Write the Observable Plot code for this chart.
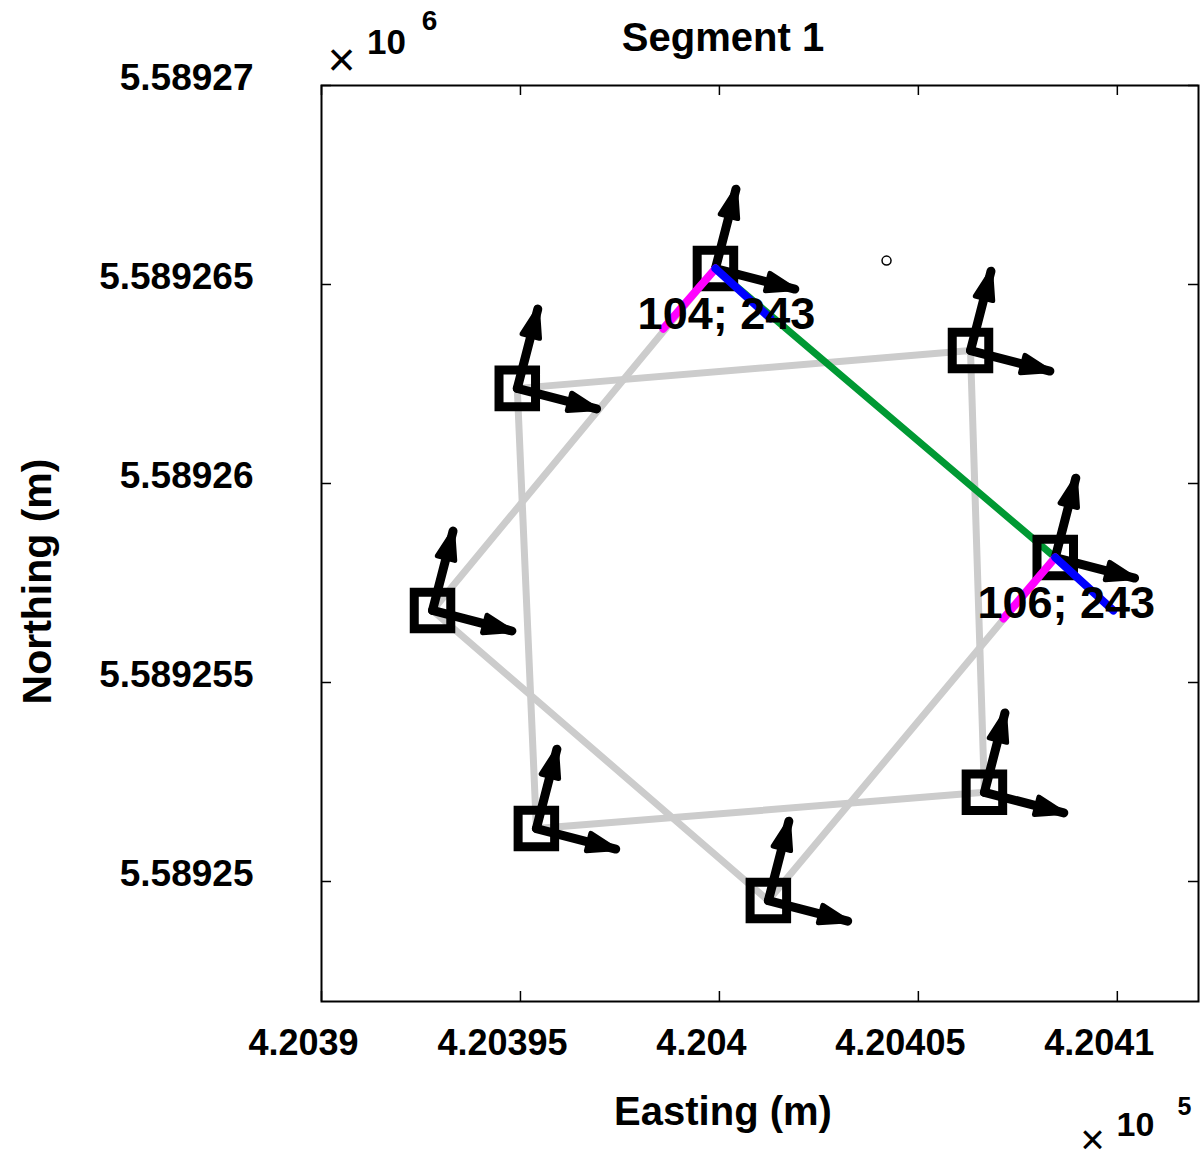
<!DOCTYPE html>
<html><head><meta charset="utf-8">
<script src="https://cdn.jsdelivr.net/npm/d3@7"></script>
<script src="https://cdn.jsdelivr.net/npm/@observablehq/plot@0.6"></script>
<style>body{margin:0;background:#fff}</style>
</head><body><div id="chart"></div>
<script>
// ---- data (metres, UTM) ----
const easting  = [420399.90, 420406.31, 420408.44, 420406.66, 420401.23, 420395.40, 420392.79, 420394.92];
const northing = [5589265.40, 5589263.34, 5589258.14, 5589252.24, 5589249.52, 5589251.33, 5589256.81, 5589262.39];
const heading  = [14.5, 14.5, 14.5, 14.5, 14.5, 14.5, 14.5, 14.5]; // degrees clockwise from north
const arrowLength = 2.06; // metres
const squarePath  = [7, 1, 3, 5, 7];
const diamondPath = [0, 6, 4, 2];
const segment = [0, 2];
const labelAt   = [0, 2];
const labelText = ["104; 243", "106; 243"];
const pinkEndE = [420398.59, 420407.14];
const pinkEndN = [5589263.89, 5589256.61];
const blueEndE = [420401.28, 420409.90];
const blueEndN = [5589264.15, 5589256.81];
const targetE = [420404.20];
const targetN = [5589265.60];
const xTicks = [420390, 420395, 420400, 420405, 420410];
const xTickLabels = ["4.2039", "4.20395", "4.204", "4.20405", "4.2041"];
const yTicks = [5589250, 5589255, 5589260, 5589265, 5589270];
const yTickLabels = ["5.58925", "5.589255", "5.58926", "5.589265", "5.58927"];

// ---- derived tables ----
const pts = easting.map((e, i) => ({e, n: northing[i], h: heading[i]}));
const grey = [
  ...squarePath.map(i => ({e: easting[i], n: northing[i], g: "sq"})),
  ...diamondPath.map(i => ({e: easting[i], n: northing[i], g: "di"}))
];
const green = segment.map(i => ({e: easting[i], n: northing[i]}));
const arrows = pts.flatMap(p => {
  const r = p.h * Math.PI / 180;
  return [
    {x1: p.e, y1: p.n, x2: p.e + arrowLength * Math.sin(r), y2: p.n + arrowLength * Math.cos(r)},
    {x1: p.e, y1: p.n, x2: p.e + arrowLength * Math.cos(r), y2: p.n - arrowLength * Math.sin(r)}
  ];
});
const pink = labelAt.map((i, k) => ({x1: easting[i], y1: northing[i], x2: pinkEndE[k], y2: pinkEndN[k]}));
const blue = labelAt.map((i, k) => ({x1: easting[i], y1: northing[i], x2: blueEndE[k], y2: blueEndN[k]}));
const labels = labelAt.map((i, k) => ({e: easting[i], n: northing[i], t: labelText[k]}));
const targets = targetE.map((e, i) => ({e, n: targetN[i]}));

function headMarker(color) {
  const m = d3.create("svg:marker")
    .attr("viewBox", "-36 -15 40 30")
    .attr("markerUnits", "userSpaceOnUse")
    .attr("markerWidth", 40).attr("markerHeight", 30)
    .attr("refX", 0).attr("refY", 0)
    .attr("orient", "auto")
    .attr("overflow", "visible");
  m.append("path")
    .attr("d", "M-28,-9L-1,0L-28,9Z")
    .attr("fill", color).attr("stroke", color)
    .attr("stroke-width", 5).attr("stroke-linejoin", "round");
  return m.node();
}

const FONT = "Liberation Sans, Arial, Helvetica, sans-serif";
const FH = 916, FW = 877;
const T = {textAnchor: "middle", lineAnchor: "middle", fontWeight: "bold", fill: "black"};

const chart = Plot.plot({
  width: 1204, height: 1167,
  marginLeft: 321, marginTop: 85, marginRight: 6, marginBottom: 166,
  style: {fontFamily: FONT, background: "#fff"},
  x: {domain: [420390, 420412.04], axis: null},
  y: {domain: [5589246.985, 5589270], axis: null},
  marks: [
    Plot.line(grey, {x: "e", y: "n", z: "g", stroke: "#cccccc", strokeWidth: 7}),
    Plot.line(green, {x: "e", y: "n", stroke: "#009933", strokeWidth: 7}),
    Plot.dot(pts, {x: "e", y: "n", symbol: "square", r: 20.6, stroke: "black", strokeWidth: 9, fill: "none"}),
    Plot.link(arrows, {x1: "x1", y1: "y1", x2: "x2", y2: "y2", stroke: "black", strokeWidth: 9, strokeLinecap: "round", strokeLinejoin: "round", markerEnd: headMarker}),
    Plot.link(pink, {x1: "x1", y1: "y1", x2: "x2", y2: "y2", stroke: "#ff00ff", strokeWidth: 8, strokeLinecap: "round"}),
    Plot.link(blue, {x1: "x1", y1: "y1", x2: "x2", y2: "y2", stroke: "#0000ff", strokeWidth: 8, strokeLinecap: "round"}),
    Plot.text(labels, {...T, x: "e", y: "n", text: "t", dx: 11, dy: 46, fontSize: 45}),
    Plot.dot(targets, {x: "e", y: "n", r: 4.5, stroke: "black", strokeWidth: 1.5, fill: "none"}),
    // frame and inward ticks
    Plot.frame({stroke: "black", strokeWidth: 2}),
    Plot.tickX(xTicks, {x: d => d, insetTop: FH - 10, stroke: "black", strokeWidth: 1.5}),
    Plot.tickX(xTicks, {x: d => d, insetBottom: FH - 10, stroke: "black", strokeWidth: 1.5}),
    Plot.tickY(yTicks, {y: d => d, insetRight: FW - 10, stroke: "black", strokeWidth: 1.5}),
    Plot.tickY(yTicks, {y: d => d, insetLeft: FW - 10, stroke: "black", strokeWidth: 1.5}),
    // tick labels
    Plot.text(xTicks, {...T, x: d => d, text: (d, i) => xTickLabels[i], frameAnchor: "bottom", dy: 42, dx: -18, fontSize: 36}),
    Plot.text(yTicks, {...T, y: d => d, text: (d, i) => yTickLabels[i], frameAnchor: "left", textAnchor: "end", dx: -68, dy: -7, fontSize: 37}),
    // axis labels and title
    Plot.text(["Segment 1"], {...T, frameAnchor: "top", dx: -37, dy: -47, fontSize: 40}),
    Plot.text(["Easting (m)"], {...T, frameAnchor: "bottom", dx: -37, dy: 111, fontSize: 40}),
    Plot.text(["Northing (m)"], {...T, frameAnchor: "left", rotate: -90, dx: -284, dy: 38, fontSize: 41}),
    // exponent annotations
    Plot.text(["×"], {...T, frameAnchor: "top-left", dx: 20, dy: -25, fontSize: 48, fontWeight: "normal"}),
    Plot.text(["10"], {...T, frameAnchor: "top-left", dx: 65, dy: -43, fontSize: 35}),
    Plot.text(["6"], {...T, frameAnchor: "top-left", dx: 108, dy: -64, fontSize: 28}),
    Plot.text(["×"], {...T, frameAnchor: "bottom-right", dx: -106, dy: 139, fontSize: 42, fontWeight: "normal"}),
    Plot.text(["10"], {...T, frameAnchor: "bottom-right", dx: -63, dy: 124, fontSize: 34}),
    Plot.text(["5"], {...T, frameAnchor: "bottom-right", dx: -14, dy: 105, fontSize: 25})
  ]
});
document.getElementById("chart").appendChild(chart);
</script>
</body></html>
